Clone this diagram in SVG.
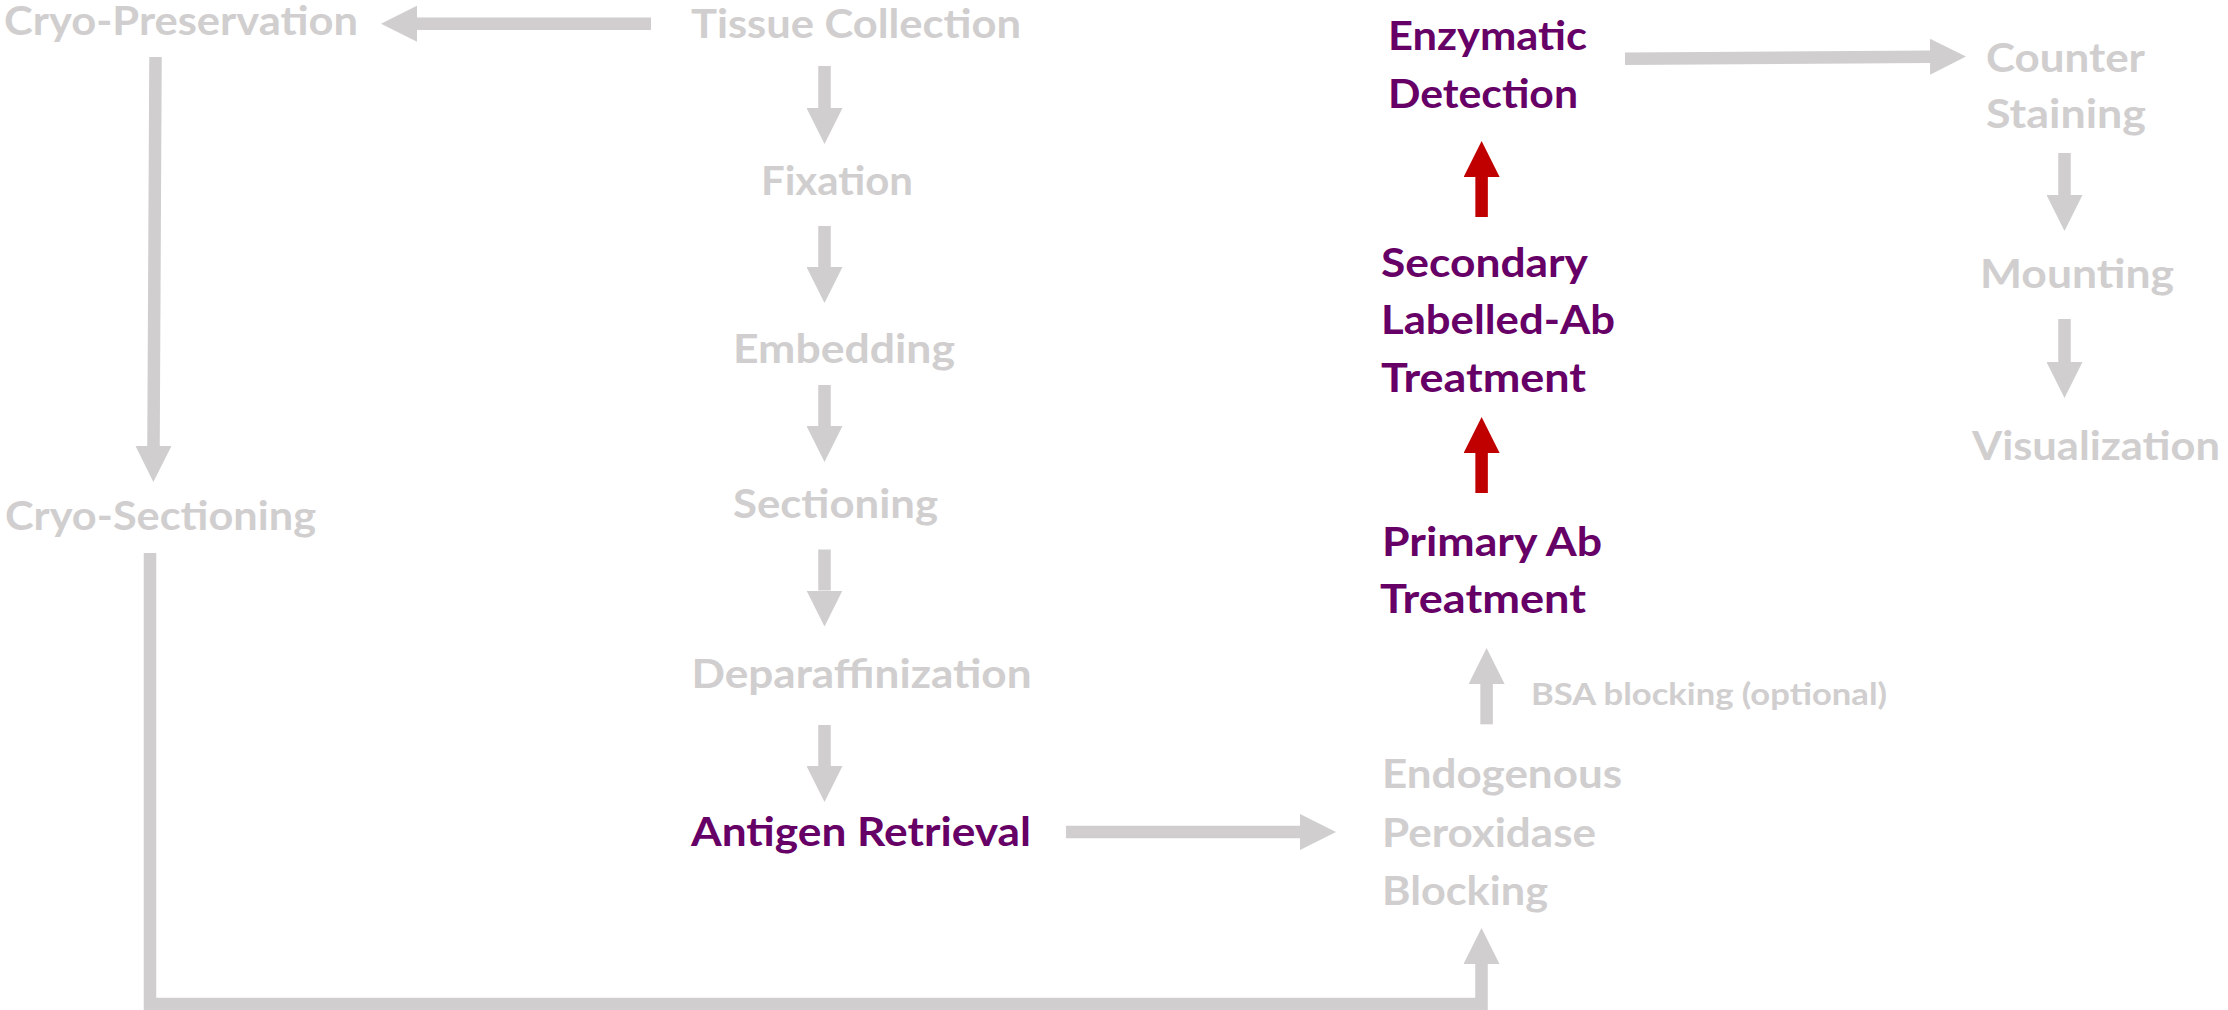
<svg xmlns="http://www.w3.org/2000/svg" width="2228" height="1010" viewBox="0 0 2228 1010">
<style>
.t{font-family:Lato,"Open Sans","Liberation Sans",sans-serif;font-weight:700;font-size:41px}
.g{fill:#D0CECE}
.p{fill:#660066}
.s{font-size:31px}
.cg{stroke:#D0CECE;stroke-width:12.5;fill:none}
.cr{stroke:#C00000;stroke-width:12.5;fill:none}
</style>
<defs>
<marker id="hg" viewBox="0 0 10 10" refX="0" refY="5" markerWidth="2.88" markerHeight="2.88" orient="auto" markerUnits="strokeWidth"><path d="M0,0 L10,5 L0,10 z" fill="#D0CECE"/></marker>
<marker id="hr" viewBox="0 0 10 10" refX="0" refY="5" markerWidth="2.88" markerHeight="2.88" orient="auto" markerUnits="strokeWidth"><path d="M0,0 L10,5 L0,10 z" fill="#C00000"/></marker>
</defs>
<rect width="2228" height="1010" fill="#ffffff"/>
<g id="connectors">
<path class="cg" d="M651,23.7 H417" marker-end="url(#hg)"/>
<path class="cg" d="M824.5,66 V108" marker-end="url(#hg)"/>
<path class="cg" d="M824.5,226 V267" marker-end="url(#hg)"/>
<path class="cg" d="M824.5,385 V426" marker-end="url(#hg)"/>
<path class="cg" d="M824.5,549.5 V590.5" marker-end="url(#hg)"/>
<path class="cg" d="M824.5,725 V766" marker-end="url(#hg)"/>
<path class="cg" d="M1066,832 H1300" marker-end="url(#hg)"/>
<path class="cg" d="M155.5,57 L153.5,446" marker-end="url(#hg)"/>
<path class="cg" d="M150,553 V1004 H1481.5 V964" marker-end="url(#hg)"/>
<path class="cg" d="M1486.6,724.3 V684" marker-end="url(#hg)"/>
<path class="cr" d="M1481.6,493 V453" marker-end="url(#hr)"/>
<path class="cr" d="M1481.6,217 V177" marker-end="url(#hr)"/>
<path class="cg" d="M1625,58.7 L1930,56.7" marker-end="url(#hg)"/>
<path class="cg" d="M2064.5,153 V195" marker-end="url(#hg)"/>
<path class="cg" d="M2064.5,319 V362" marker-end="url(#hg)"/>
</g>
<g id="cryo-preservation"><text class="t g" x="4" y="35" textLength="354" lengthAdjust="spacingAndGlyphs">Cryo-Preservation</text></g>
<g id="tissue-collection"><text class="t g" x="691" y="38" textLength="330" lengthAdjust="spacingAndGlyphs">Tissue Collection</text></g>
<g id="fixation"><text class="t g" x="761" y="195" textLength="152" lengthAdjust="spacingAndGlyphs">Fixation</text></g>
<g id="embedding"><text class="t g" x="733" y="363" textLength="222" lengthAdjust="spacingAndGlyphs">Embedding</text></g>
<g id="sectioning"><text class="t g" x="733" y="518" textLength="205" lengthAdjust="spacingAndGlyphs">Sectioning</text></g>
<g id="deparaffinization"><text class="t g" x="691.5" y="687.5" textLength="340" lengthAdjust="spacingAndGlyphs">Deparaffinization</text></g>
<g id="antigen-retrieval"><text class="t p" x="691" y="846" textLength="340" lengthAdjust="spacingAndGlyphs">Antigen Retrieval</text></g>
<g id="cryo-sectioning"><text class="t g" x="5" y="530" textLength="311" lengthAdjust="spacingAndGlyphs">Cryo-Sectioning</text></g>
<g id="enzymatic-detection">
<text class="t p" x="1388" y="50" textLength="199" lengthAdjust="spacingAndGlyphs">Enzymatic</text>
<text class="t p" x="1388" y="108" textLength="190" lengthAdjust="spacingAndGlyphs">Detection</text>
</g>
<g id="secondary-treatment">
<text class="t p" x="1381" y="277" textLength="207" lengthAdjust="spacingAndGlyphs">Secondary</text>
<text class="t p" x="1381" y="334" textLength="234" lengthAdjust="spacingAndGlyphs">Labelled-Ab</text>
<text class="t p" x="1381" y="392" textLength="205" lengthAdjust="spacingAndGlyphs">Treatment</text>
</g>
<g id="primary-treatment">
<text class="t p" x="1382" y="556" textLength="220" lengthAdjust="spacingAndGlyphs">Primary Ab</text>
<text class="t p" x="1380" y="613" textLength="206" lengthAdjust="spacingAndGlyphs">Treatment</text>
</g>
<g id="endogenous-blocking">
<text class="t g" x="1382" y="788" textLength="240" lengthAdjust="spacingAndGlyphs">Endogenous</text>
<text class="t g" x="1382" y="847" textLength="214" lengthAdjust="spacingAndGlyphs">Peroxidase</text>
<text class="t g" x="1382" y="905" textLength="166" lengthAdjust="spacingAndGlyphs">Blocking</text>
</g>
<g id="bsa-label"><text class="t g s" x="1531" y="705" textLength="356" lengthAdjust="spacingAndGlyphs">BSA blocking (optional)</text></g>
<g id="counter-staining">
<text class="t g" x="1986" y="72" textLength="159" lengthAdjust="spacingAndGlyphs">Counter</text>
<text class="t g" x="1986" y="128" textLength="160" lengthAdjust="spacingAndGlyphs">Staining</text>
</g>
<g id="mounting"><text class="t g" x="1980" y="288" textLength="194" lengthAdjust="spacingAndGlyphs">Mounting</text></g>
<g id="visualization"><text class="t g" x="1972" y="460" textLength="248" lengthAdjust="spacingAndGlyphs">Visualization</text></g>
</svg>
